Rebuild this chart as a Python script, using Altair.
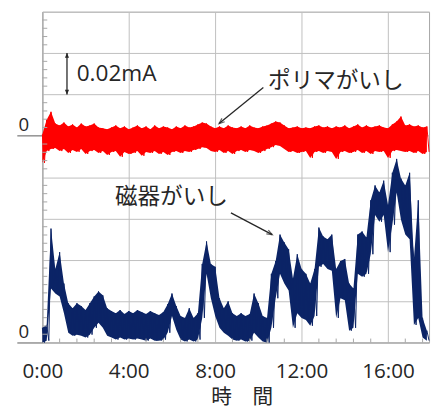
import altair as alt
import numpy as np
import pandas as pd

STEP = 0.2      # hours per reading bin
OFFSET = 100    # µA display offset of the polymer trace (its own zero line)

# porcelain insulator leakage current (µA), upper / lower envelope per bin
porcelain_hi = [7.1, 8.5, 55.1, 35.6, 43.7, 28.5, 19.0, 16.6, 19.0, 17.6,
                15.7, 19.0, 22.3, 24.7, 22.8, 16.6, 15.2, 14.2, 15.7, 13.8,
                15.2, 14.2, 15.7, 14.7, 13.8, 15.2, 14.2, 13.3, 14.7, 18.5,
                23.7, 17.6, 12.8, 11.9, 16.6, 11.9, 14.2, 38.0, 48.9, 38.0,
                36.6, 21.4, 16.6, 19.9, 14.2, 12.8, 14.2, 12.8, 13.8, 23.7,
                19.0, 12.8, 11.9, 33.2, 39.4, 52.2, 48.4, 45.1, 30.9, 42.7,
                35.6, 33.2, 28.5, 35.6, 55.6, 51.3, 49.9, 52.2, 35.6, 39.4,
                40.4, 28.5, 26.1, 52.2, 53.7, 50.8, 68.8, 76.0, 72.6, 78.3,
                66.5, 82.1, 88.8, 79.3, 76.0, 82.1, 40.4, 68.8, 11.9, 5.7]
porcelain_lo = [0.0, 0.9, 26.1, 23.7, 22.3, 14.2, 4.7, 3.3, 3.8, 3.3,
                2.4, 3.8, 7.1, 9.5, 7.1, 3.3, 2.4, 1.4, 2.4, 1.4,
                1.9, 1.4, 1.9, 1.4, 0.9, 1.9, 0.9, 0.9, 1.4, 4.7,
                12.8, 6.2, 1.4, 0.5, 1.4, 0.5, 1.4, 11.9, 33.2, 21.4,
                12.8, 7.1, 4.7, 3.3, 1.4, 0.9, 1.4, 0.5, 0.9, 4.7,
                2.4, 0.5, 0.0, 7.1, 21.4, 33.2, 28.5, 25.2, 7.1, 14.2,
                11.9, 10.9, 8.1, 12.8, 36.6, 38.0, 35.6, 34.7, 11.9, 21.4,
                20.4, 5.7, 7.1, 33.2, 31.8, 33.2, 42.7, 61.7, 58.4, 61.7,
                43.7, 57.0, 72.6, 59.4, 52.2, 49.9, 8.5, 11.9, 2.4, 0.9]

# polymer insulator leakage current (µA, relative to its own zero)
polymer_hi = [0.7, 7.8, 11.6, 5.9, 5.0, 6.4, 4.5, 5.5, 4.0, 5.9,
              4.5, 5.0, 5.9, 4.0, 3.6, 3.1, 4.0, 5.0, 3.6, 4.5,
              3.1, 4.0, 5.0, 3.6, 4.5, 3.1, 5.0, 3.6, 4.5, 4.0,
              3.1, 4.5, 3.6, 5.0, 4.0, 4.5, 5.5, 6.4, 5.9, 4.5,
              3.6, 4.5, 3.6, 5.0, 4.0, 3.6, 4.5, 3.6, 5.0, 4.0,
              3.6, 4.5, 5.0, 5.9, 6.9, 6.4, 5.0, 3.6, 4.0, 4.5,
              3.6, 4.0, 3.6, 4.5, 5.0, 4.0, 4.5, 3.6, 4.5, 4.0,
              5.0, 3.6, 4.5, 5.5, 4.0, 5.0, 4.0, 4.5, 5.0, 4.0,
              3.6, 5.5, 6.9, 9.3, 5.0, 5.5, 4.5, 5.0, 4.0, 4.5]
polymer_lo = [-13.1, -7.4, -6.4, -5.9, -7.4, -6.4, -8.3, -6.9, -7.8, -6.4,
              -8.8, -7.4, -6.9, -8.3, -7.4, -9.3, -7.8, -7.4, -10.2, -7.8,
              -8.8, -8.3, -7.4, -9.7, -7.8, -8.3, -7.4, -8.8, -7.8, -9.3,
              -7.8, -7.4, -8.3, -7.4, -7.8, -6.9, -6.4, -5.5, -5.9, -7.4,
              -7.8, -6.9, -8.3, -7.4, -8.8, -7.4, -6.9, -7.8, -6.9, -7.4,
              -8.3, -7.4, -6.4, -5.5, -4.5, -5.0, -6.4, -7.8, -7.4, -8.3,
              -7.8, -7.4, -10.7, -7.8, -7.4, -8.3, -7.4, -7.8, -11.2, -7.8,
              -7.4, -8.3, -7.8, -6.9, -8.3, -7.4, -8.8, -7.4, -7.8, -7.4,
              -10.7, -7.4, -6.9, -7.4, -7.8, -7.4, -8.3, -7.4, -8.8, -7.8]

x_ticks = [0, 4, 8, 12, 16]
y_grid = [0, 20, 40, 60, 80, 100, 120, 140, 160]

labels = pd.DataFrame({
    "t": [1.59, 10.45, 3.36],
    "v": [129.6, 126.3, 70.3],
    "text": ["0.02mA", "ポリマがいし", "磁器がいし"],
    "font": ["Open Sans", "Noto Sans CJK JP", "Noto Sans CJK JP"],
})
arrows = pd.DataFrame({
    "t": [10.23, 8.73, 1.14],
    "v": [123.4, 62.7, 120.0],
    "t2": [8.18, 10.64, 1.14],
    "v2": [105.9, 52.2, 140.0],
})
heads_open = pd.DataFrame({"t": [8.18, 10.64], "v": [105.9, 52.2], "angle": [230.6, 117.6]})
heads_fill = pd.DataFrame({"t": [1.14, 1.14], "v": [140.0, 120.0], "angle": [0, 180]})


def zigzag(hi, lo, offset=0.0):
    rows = []
    for i, (h, l) in enumerate(zip(hi, lo)):
        t = i * STEP
        rows.append({"t": t, "v": h + offset})
        rows.append({"t": t + STEP / 2, "v": l + offset})
    return pd.DataFrame(rows)


def band(hi, lo, offset=0.0):
    return pd.DataFrame({"t": [i * STEP for i in range(len(hi))],
                         "hi": [h + offset for h in hi],
                         "lo": [l + offset for l in lo]})


por_df = zigzag(porcelain_hi, porcelain_lo)
pol_df = zigzag(polymer_hi, polymer_lo, OFFSET)
por_band = band(porcelain_hi, porcelain_lo)
pol_band = band(polymer_hi, polymer_lo, OFFSET)

minor_y = pd.DataFrame({"v": [v for v in np.arange(0, 160.1, 4) if v % 20 != 0]})
minor_x = pd.DataFrame({"t": [t for t in np.arange(0, 17.9, 0.8) if abs(t / 4 - round(t / 4)) > 1e-6]})

xs = alt.Scale(domain=[0, 17.9], nice=False, zero=False)
ys = alt.Scale(domain=[0, 160], nice=False)

GRID = "#bfbfbf"
BORDER = "#a6a6a6"
TXT = "#262626"
NAVY = "#0b2466"
RED = "#ff0000"

x_axis = alt.Axis(values=x_ticks, labelExpr="datum.value + ':00'", grid=True, gridColor=GRID,
                  ticks=False, domainColor=BORDER, labelFont="Open Sans", labelFontSize=21,
                  labelColor=TXT, labelPadding=19, labelFlush=False, labelOverlap=False,
                  title="時　間", titleFont="Noto Sans CJK JP", titleFontSize=21,
                  titleFontWeight="normal", titleColor=TXT, titlePadding=5, titleX=203)
y_axis = alt.Axis(values=y_grid, grid=True, gridColor=GRID, domainColor=BORDER,
                  tickSize=26,
                  tickColor={"condition": {"test": "datum.value === 0 || datum.value === 100",
                                           "value": "#595959"}, "value": "transparent"},
                  labelExpr="(datum.value === 0 || datum.value === 100) ? '0' : ''",
                  labelBaseline="bottom", labelPadding=-12, labelOffset=-1,
                  labelFont="Open Sans", labelFontSize=19, labelColor=TXT, title="")

area_por = alt.Chart(por_band).mark_area(color=NAVY, opacity=1).encode(
    x=alt.X("t:Q", scale=xs, axis=x_axis),
    y=alt.Y("lo:Q", scale=ys, axis=y_axis),
    y2="hi:Q",
)
line_por = alt.Chart(por_df).mark_line(color=NAVY, strokeWidth=1.0).encode(
    x=alt.X("t:Q", scale=xs), y=alt.Y("v:Q", scale=ys))
area_pol = alt.Chart(pol_band).mark_area(color=RED, opacity=1).encode(
    x=alt.X("t:Q", scale=xs), y=alt.Y("lo:Q", scale=ys), y2="hi:Q")
line_pol = alt.Chart(pol_df).mark_line(color=RED, strokeWidth=1.0).encode(
    x=alt.X("t:Q", scale=xs), y=alt.Y("v:Q", scale=ys))

mticks_y = alt.Chart(minor_y).mark_rule(color=BORDER).encode(
    y=alt.Y("v:Q", scale=ys), x=alt.value(0), x2=alt.value(5))
mticks_x = alt.Chart(minor_x).mark_rule(color=BORDER).encode(
    x=alt.X("t:Q", scale=xs), y=alt.value(337), y2=alt.value(333))

arrow_lines = alt.Chart(arrows).mark_rule(color="#262626", strokeWidth=1.3).encode(
    x=alt.X("t:Q", scale=xs), y=alt.Y("v:Q", scale=ys), x2="t2:Q", y2="v2:Q")
arrow_open = alt.Chart(heads_open).mark_point(
    shape="M-0.55,1.4L0,0L0.55,1.4", filled=False, color="#262626", strokeWidth=1.3, size=64
).encode(x=alt.X("t:Q", scale=xs), y=alt.Y("v:Q", scale=ys), angle=alt.Angle("angle:Q", scale=None))
arrow_fill = alt.Chart(heads_fill).mark_point(
    shape="M-0.7,1.6L0,0L0.7,1.6Z", filled=True, color="#262626", size=36, opacity=1
).encode(x=alt.X("t:Q", scale=xs), y=alt.Y("v:Q", scale=ys), angle=alt.Angle("angle:Q", scale=None))

text_num = alt.Chart(labels[labels.font == "Open Sans"]).mark_text(
    align="left", baseline="middle", font="Open Sans", fontSize=23, color=TXT
).encode(x=alt.X("t:Q", scale=xs), y=alt.Y("v:Q", scale=ys), text="text:N")
text_jp = alt.Chart(labels[labels.font != "Open Sans"]).mark_text(
    align="left", baseline="middle", font="Noto Sans CJK JP", fontSize=23, color=TXT
).encode(x=alt.X("t:Q", scale=xs), y=alt.Y("v:Q", scale=ys), text="text:N")

chart = alt.layer(
    area_por, line_por, area_pol, line_pol, mticks_y, mticks_x,
    arrow_lines, arrow_open, arrow_fill, text_num, text_jp
).properties(
    width=394, height=337,
    autosize=alt.AutoSizeParams(type="none"),
    padding={"left": 35, "top": 0, "right": 3, "bottom": 66},
).configure_view(stroke=BORDER)

chart.save("out.html", embed_options={"renderer": "svg", "actions": False})
